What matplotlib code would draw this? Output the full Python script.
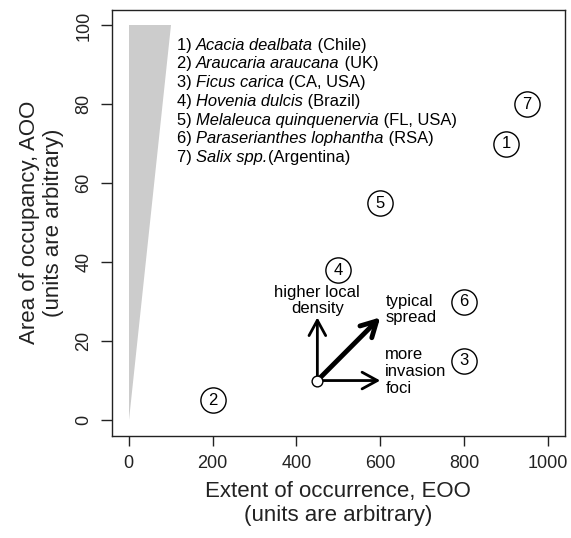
import matplotlib
matplotlib.use("Agg")
import matplotlib.pyplot as plt

plt.rcParams['font.family'] = ['Liberation Sans', 'DejaVu Sans']

# numbered species positions (EOO, AOO)
labels = ['1', '2', '3', '4', '5', '6', '7']
eoo = [900, 200, 800, 500, 600, 800, 950]
aoo = [70, 5, 15, 38, 55, 30, 80]

# legend entries: number, species (italic), region
species = ['Acacia dealbata', 'Araucaria araucana', 'Ficus carica', 'Hovenia dulcis',
           'Melaleuca quinquenervia', 'Paraserianthes lophantha', 'Salix spp.']
regions = [' (Chile)', ' (UK)', ' (CA, USA)', ' (Brazil)', ' (FL, USA)', ' (RSA)', '(Argentina)']

# grey wedge
wedge_x = [0, 0, 100]
wedge_y = [0, 100, 100]

# arrow diagram
origin = (450, 10)
arrow_ends = [(450, 26), (600, 26), (600, 10)]
arrow_lw = [2, 3.5, 2]

fig = plt.figure(figsize=(5.71, 5.38), dpi=100)
ax = fig.add_axes([0.196, 0.19, 0.793, 0.792])

ax.fill(wedge_x, wedge_y, color='#cccccc', lw=0, zorder=1)

# numbered circles
ax.scatter(eoo, aoo, s=330, facecolors='white', edgecolors='black', linewidths=1, zorder=3)
for lab, x, y in zip(labels, eoo, aoo):
    ax.text(x, y, lab, ha='center', va='center', fontsize=12, zorder=4)

# arrows
for (ex, ey), lw in zip(arrow_ends, arrow_lw):
    ax.annotate('', xy=(ex, ey), xytext=origin,
                arrowprops=dict(arrowstyle='->, head_length=0.55, head_width=0.3',
                                lw=lw, color='black', mutation_scale=20,
                                shrinkA=0, shrinkB=0), zorder=2)
ax.scatter([origin[0]], [origin[1]], s=60, facecolors='white', edgecolors='black',
           linewidths=1, zorder=5)

ax.text(450, 30.3, 'higher local\ndensity', ha='center', va='center', fontsize=12,
        linespacing=1.15)
ax.text(612, 28, 'typical\nspread', ha='left', va='center', fontsize=12, linespacing=1.15)
ax.text(612, 12.3, 'more\ninvasion\nfoci', ha='left', va='center', fontsize=12,
        linespacing=1.15)

# species legend with italic names
y0 = 95.0
for i, (sp, rg) in enumerate(zip(species, regions)):
    y = y0 - i * 4.75
    t = ax.text(115, y, f'{i + 1}) ', ha='left', va='center', fontsize=11.9)
    t = ax.annotate(sp, xy=(1, 0), xycoords=t, ha='left', va='bottom',
                    fontsize=11.9, style='italic')
    ax.annotate(rg, xy=(1, 0), xycoords=t, ha='left', va='bottom', fontsize=11.9)

ax.set_xlim(-40, 1040)
ax.set_ylim(-4, 104)
ax.set_xticks([0, 200, 400, 600, 800, 1000])
ax.set_yticks([0, 20, 40, 60, 80, 100])
ax.tick_params(axis='x', length=7, width=1, pad=7, labelsize=13, colors='#222222')
ax.tick_params(axis='y', length=8, width=1, pad=6, labelsize=13, colors='#222222')
for lab in ax.get_yticklabels():
    lab.set_rotation(90)
    lab.set_va('center')

for side in ['top', 'right', 'bottom', 'left']:
    ax.spines[side].set_linewidth(1)
    ax.spines[side].set_color('#222222')

ax.set_xlabel('Extent of occurrence, EOO\n(units are arbitrary)', fontsize=16, labelpad=6,
              color='#222222')
ax.set_ylabel('Area of occupancy, AOO\n(units are arbitrary)', fontsize=16, labelpad=8,
              color='#222222')

fig.savefig('out.png', dpi=100)
